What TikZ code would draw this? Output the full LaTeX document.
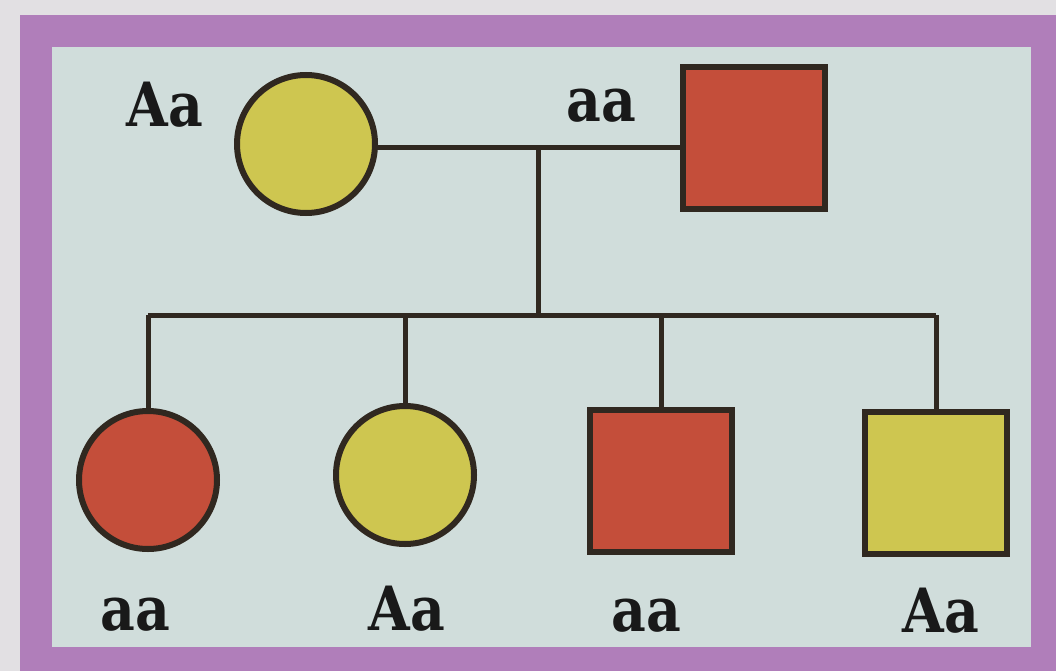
\documentclass[tikz,border=0pt]{standalone}
\usepackage{fontspec}
\setmainfont{DejaVu Serif}[FakeStretch=0.88]
\usetikzlibrary{positioning}
\definecolor{cPage}{RGB}{226,224,227}
\definecolor{cFrame}{RGB}{176,126,186}
\definecolor{cPanel}{RGB}{208,221,219}
\definecolor{cRed}{RGB}{196,78,58}
\definecolor{cYel}{RGB}{206,198,80}
\definecolor{cInk}{RGB}{48,40,32}

\tikzset{
  female/.style={circle, draw=cInk, line width=6pt, minimum size=138pt, inner sep=0pt},
  male/.style={rectangle, draw=cInk, line width=6pt, minimum size=142pt, inner sep=0pt},
  geno/.style={anchor=base, font=\fontsize{61}{61}\selectfont\bfseries, text=black!90},
  link/.style={line width=5pt, draw=cInk},
}

\begin{document}
\begin{tikzpicture}[x=1pt, y=-1pt]
    % Page, frame and panel
    \useasboundingbox (0,0) rectangle (1056,671);
    \fill[cPage] (0,0) rectangle (1056,671);
    \fill[cFrame] (20,15) rectangle (1056,671);
    \fill[cPanel] (52,47) rectangle (1031,647);

    % Parents
    \node[female, fill=cYel] (mother) at (306,144) {};
    \node[male, fill=cRed] (father) at (754,138) {};
    \node[geno] (gMother) at (165,127) {Aa};
    \node[geno] (gFather) at (601,122) {aa};

    % Children
    \node[female, fill=cRed] (kid1) at (148,480) {};
    \node[female, fill=cYel] (kid2) at (405,475) {};
    \node[male, fill=cRed] (kid3) at (661,481) {};
    \node[male, fill=cYel] (kid4) at (936,483) {};
    \node[geno] (gKid1) at (135,630) {aa};
    \node[geno] (gKid2) at (407,630) {Aa};
    \node[geno] (gKid3) at (646,631) {aa};
    \node[geno] (gKid4) at (941,632) {Aa};

    % Marriage line and descent
    \coordinate (mate) at (538,148);
    \coordinate (sib) at (538,315);
    \draw[link] (mate -| mother.east) -- (mate -| father.west);
    \draw[link] (mate) -- (sib);
    \draw[link] (kid1 |- sib) -- (kid4 |- sib);
    \foreach \k in {kid1,kid2,kid3,kid4}
        \draw[link] (\k |- sib) -- (\k.north);
\end{tikzpicture}
\end{document}
